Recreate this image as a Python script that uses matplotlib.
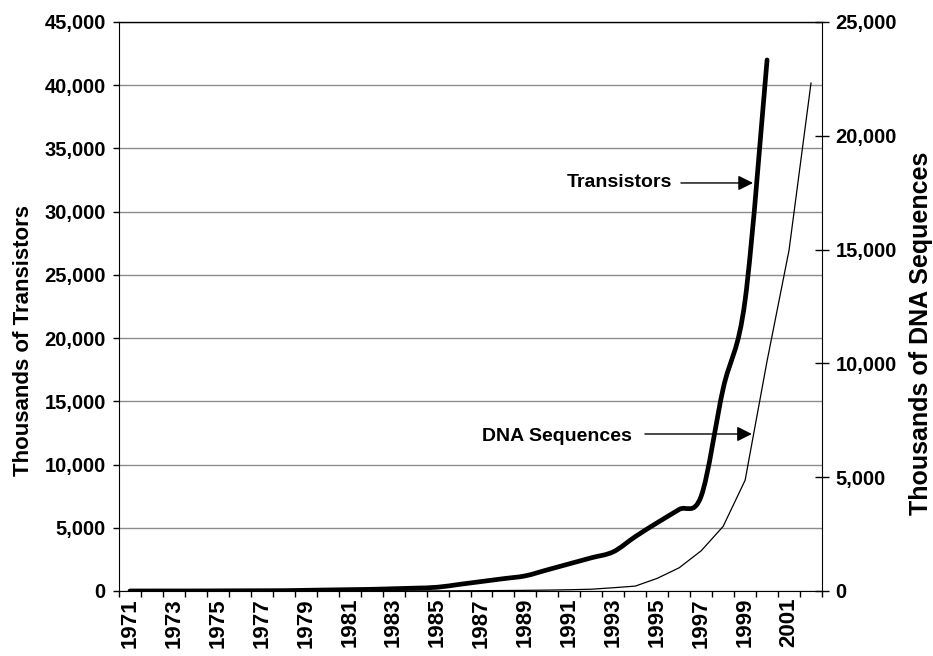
import matplotlib
matplotlib.use('Agg')
import matplotlib.pyplot as plt
from matplotlib.ticker import FuncFormatter, FixedLocator
from matplotlib.path import Path
from matplotlib.patches import PathPatch
import numpy as np

plt.rcParams['font.family'] = ['Liberation Sans', 'DejaVu Sans']
plt.rcParams['font.weight'] = 'bold'

years = list(range(1971, 2003))
transistors = [2.3, 3.5, 4.8, 6, 11.8, 17.5, 23.3, 29, 55, 82, 108, 134, 181, 228,
               300, 525, 750, 975, 1200, 1675, 2150, 2625, 3100, 4300, 5400, 6450,
               7500, 16000, 23000, 42000, None, None]
dna_sequences = [None] * 11 + [0.6, 2.4, 4.2, 5.7, 10, 14.6, 20.6, 28.8, 39.5, 55.6,
                               78.6, 143, 215, 556, 1021, 1766, 2838, 4865, 10106,
                               14976, 22319]
left_ticks = list(range(0, 45001, 5000))
right_ticks = list(range(0, 25001, 5000))

x = np.arange(len(years))
t = np.array([np.nan if v is None else v for v in transistors], dtype=float)
d = np.array([np.nan if v is None else v for v in dna_sequences], dtype=float)


def smooth_path(xs, ys):
    """Excel-style smoothed line: cubic Bezier through every data point."""
    m = ~np.isnan(ys)
    pts = np.column_stack([xs[m], ys[m]])
    n = len(pts)
    verts = [pts[0]]
    codes = [Path.MOVETO]
    for i in range(n - 1):
        p0 = pts[i - 1] if i > 0 else pts[i]
        p1 = pts[i]
        p2 = pts[i + 1]
        p3 = pts[i + 2] if i + 2 < n else pts[i + 1]
        c1 = p1 + (p2 - p0) / 6.0
        c2 = p2 - (p3 - p1) / 6.0
        verts += [c1, c2, p2]
        codes += [Path.CURVE4] * 3
    return Path(verts, codes)


fig = plt.figure(figsize=(9.33, 6.56), dpi=100)
ax = fig.add_axes([119 / 933, 1 - 591 / 656, (822 - 119) / 933, (591 - 22) / 656])
ax2 = ax.twinx()

fmt = FuncFormatter(lambda v, p: f"{int(v):,}")

# left axis
ax.set_xlim(-0.5, len(years) - 0.5)
ax.set_ylim(0, 45000)
ax.yaxis.set_major_locator(FixedLocator(left_ticks))
ax.yaxis.set_major_formatter(fmt)
ax.grid(axis='y', color='#8c8c8c', lw=1.0)
ax.set_axisbelow(True)
ax.add_patch(PathPatch(smooth_path(x, t), fill=False, edgecolor='black', lw=3.4,
                       joinstyle='round', capstyle='round', zorder=3))

# x ticks: marks at boundaries, labels at centers (every other year)
ax.xaxis.set_major_locator(FixedLocator(np.arange(-0.5, len(years), 1.0)))
ax.xaxis.set_major_formatter(FuncFormatter(lambda v, p: ''))
ax.xaxis.set_minor_locator(FixedLocator(x))
ax.xaxis.set_minor_formatter(FuncFormatter(
    lambda v, p: str(years[int(round(v))]) if int(round(v)) % 2 == 0 else ''))
ax.tick_params(axis='x', which='major', direction='out', length=4.5, width=1)
ax.tick_params(axis='x', which='minor', length=0, labelsize=16, pad=5, labelrotation=90)
ax.tick_params(axis='y', direction='out', length=4.5, width=1, labelsize=14.5, pad=5)

ax.spines['top'].set_color('black')
ax.spines['top'].set_linewidth(1.0)
ax2.spines['top'].set_visible(False)
ax2.spines['left'].set_visible(False)
ax2.spines['bottom'].set_visible(False)
ax.spines['right'].set_visible(False)

# right axis
ax2.set_ylim(0, 25000)
ax2.yaxis.set_major_locator(FixedLocator(right_ticks))
ax2.yaxis.set_major_formatter(fmt)
ax2.tick_params(axis='y', direction='inout', length=9.5, width=1, labelsize=14.5, pad=5)
ax2.plot(x, d, color='black', lw=0.9, zorder=3)

fig.text(24 / 933, 1 - 340 / 656, 'Thousands of Transistors', rotation=90,
         ha='center', va='center', fontsize=16, fontweight='bold')
fig.text(921 / 933, 1 - 333 / 656, 'Thousands of DNA Sequences', rotation=90,
         ha='center', va='center', fontsize=18, fontweight='bold')

for lab in ax.get_xticklabels(minor=True):
    lab.set_fontweight('bold')

# annotations
arrow = dict(arrowstyle='-|>,head_length=0.9,head_width=0.45', color='black',
             lw=1.0, shrinkA=0, shrinkB=0, mutation_scale=10)
ax.text(24.67, 32270, 'Transistors', ha='right', va='center', fontsize=14, fontweight='bold')
ax.annotate('', xy=(28.36, 32270), xytext=(25.08, 32270), arrowprops=arrow)
ax.text(22.85, 12250, 'DNA Sequences', ha='right', va='center', fontsize=14, fontweight='bold')
ax.annotate('', xy=(28.31, 12417), xytext=(23.44, 12417), arrowprops=arrow)

fig.savefig('out.png', dpi=100)
